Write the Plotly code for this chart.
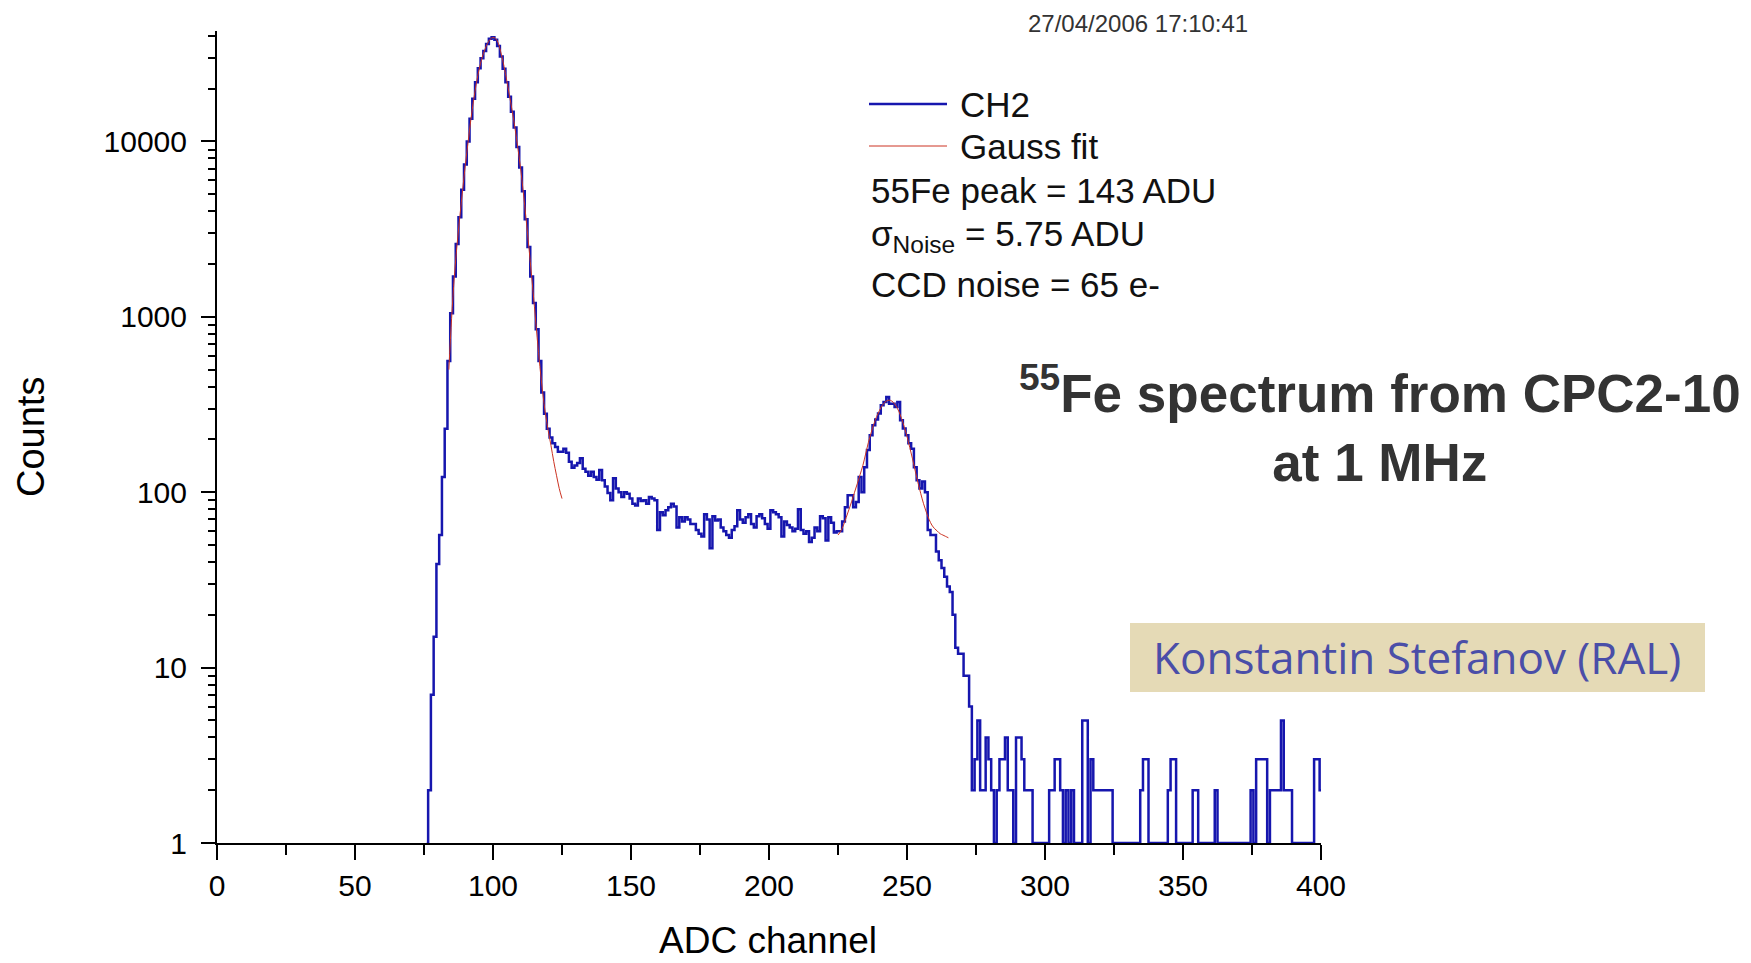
import plotly.graph_objects as go

# CH2 histogram: one bin per ADC channel, 76 .. 400
channels = list(range(76, 401))
counts = [
    1, 2, 7, 15, 39, 57, 122, 230, 560, 1050,                           # 76-85
    1700, 2600, 3700, 5300, 7400, 10000, 13500, 17500, 21800, 26200,    # 86-95
    29800, 32800, 36000, 38500, 39300, 38000, 35000, 30500, 26000, 21800,  # 96-105
    18000, 14800, 12000, 9300, 7100, 5200, 3600, 2500, 1700, 1200,      # 106-115
    850, 560, 370, 280, 230, 205, 190, 181, 170, 170,                   # 116-125
    177, 168, 149, 138, 142, 147, 156, 136, 131, 124,                   # 126-135
    131, 122, 118, 134, 117, 108, 99, 90, 120, 105,                     # 136-145
    100, 94, 100, 98, 92, 86, 84, 92, 89, 90,                           # 146-155
    86, 94, 92, 90, 61, 77, 74, 79, 82, 86,                             # 156-165
    83, 63, 72, 68, 72, 70, 66, 66, 61, 58,                             # 166-175
    56, 75, 70, 48, 73, 69, 70, 63, 60, 57,                             # 176-185
    55, 61, 64, 79, 70, 67, 72, 75, 66, 63,                             # 186-195
    73, 75, 71, 66, 62, 79, 77, 75, 72, 56,                             # 196-205
    68, 65, 63, 60, 62, 80, 61, 58, 60, 52,                             # 206-215
    55, 63, 60, 73, 71, 53, 72, 67, 59, 60,                             # 216-225
    60, 68, 82, 96, 96, 82, 88, 122, 100, 139,                          # 226-235
    174, 211, 241, 260, 281, 313, 327, 349, 320, 320,                   # 236-245
    306, 327, 257, 231, 211, 190, 177, 139, 117, 105,                   # 246-255
    115, 100, 61, 57, 57, 46, 41, 37, 33, 29,                           # 256-265
    27, 20, 13, 12, 12, 9, 9, 6, 2, 3,                                  # 266-275
    5, 2, 2, 4, 3, 2, 1, 2, 3, 3,                                       # 276-285
    4, 2, 2, 1, 4, 4, 3, 2, 2, 2,                                       # 286-295
    1, 1, 1, 1, 1, 1, 2, 2, 3, 3,                                       # 296-305
    2, 1, 2, 1, 2, 1, 1, 1, 5, 5,                                       # 306-315
    1, 3, 2, 2, 2, 2, 2, 2, 2, 1,                                       # 316-325
    1, 1, 1, 1, 1, 1, 1, 1, 1, 2,                                       # 326-335
    3, 3, 1, 1, 1, 1, 1, 1, 1, 2,                                       # 336-345
    3, 3, 1, 1, 1, 1, 1, 1, 2, 2,                                       # 346-355
    1, 1, 1, 1, 1, 1, 2, 1, 1, 1,                                       # 356-365
    1, 1, 1, 1, 1, 1, 1, 1, 1, 2,                                       # 366-375
    1, 3, 3, 3, 3, 1, 2, 2, 2, 2,                                       # 376-385
    5, 2, 2, 2, 1, 1, 1, 1, 1, 1,                                       # 386-395
    1, 1, 3, 3, 2,                                                      # 396-400
]

# Gauss fit of the noise peak
fit1_channels = list(range(84, 126))
fit1_counts = [
    500, 980, 1700, 2600, 3750, 5300, 7400, 10000, 13400, 17300,
    21600, 25900, 29900, 33300, 36200, 38300, 39200, 38600, 36000, 31500,
    26800, 22200, 18200, 14800, 11800, 9200, 7000, 5100, 3600, 2500,
    1700, 1150, 760, 520, 370, 280, 225, 185, 150, 125,
    105, 92,
]

# Gauss fit of the 55Fe peak
fit2_channels = list(range(225, 266))
fit2_counts = [
    57, 60, 65, 72, 80, 89, 100, 112, 126, 142,
    165, 192, 218, 245, 270, 292, 312, 326, 334, 334,
    326, 311, 290, 264, 236, 208, 180, 155, 132, 113,
    98, 86, 77, 70, 65, 62, 60, 58, 57, 56,
    55,
]

y_ticks = [1, 10, 100, 1000, 10000]
y_minor = [m * 10 ** e for e in range(0, 5) for m in range(2, 10) if m * 10 ** e < 42000]

# the page body has an 8px margin, so the figure is drawn 8px smaller and shifted
OFF = 8
W, H = 1751 - OFF, 963 - OFF
L, R, T, B = 217 - OFF, 430, 31 - OFF, 120
PW, PH = W - L - R, H - T - B
FONT = "Liberation Sans, Arial, sans-serif"


def px(x):
    # screen pixel -> paper x
    return (x - OFF - L) / PW


def py(y):
    # screen pixel -> paper y
    return (H - B - (y - OFF)) / PH


fig = go.Figure()
fig.add_trace(go.Scatter(
    x=channels, y=counts, mode="lines", name="CH2",
    line=dict(color="#1616ae", width=2.5, shape="hvh"),
    cliponaxis=False,
))
fig.add_trace(go.Scatter(
    x=fit1_channels, y=fit1_counts, mode="lines", name="Gauss fit",
    line=dict(color="#cc3322", width=1, shape="spline"),
))
fig.add_trace(go.Scatter(
    x=fit2_channels, y=fit2_counts, mode="lines", name="Gauss fit",
    line=dict(color="#cc3322", width=1, shape="spline"), showlegend=False,
))

axis_common = dict(
    showline=True, linecolor="black", linewidth=2,
    ticks="outside", tickcolor="black", tickwidth=2,
    showgrid=False, zeroline=False,
    tickfont=dict(family=FONT, size=30, color="black"),
    layer="below traces",
)

fig.update_xaxes(
    range=[0, 400], tick0=0, dtick=50, ticklen=15,
    minor=dict(ticks="outside", dtick=25, ticklen=10, tickwidth=2, tickcolor="black"),
    ticklabelstandoff=0,
    **axis_common,
)
fig.update_yaxes(
    type="log", range=[0, 4.63],
    tickvals=y_ticks, ticktext=[str(v) for v in y_ticks], ticklen=14,
    minor=dict(ticks="outside", tickvals=y_minor, ticklen=7, tickwidth=2, tickcolor="black"),
    ticklabelstandoff=8,
    **axis_common,
)

text_font = dict(family=FONT, size=35, color="#111111")
annotations = [
    dict(x=px(768), y=py(940), text="ADC channel", font=dict(family=FONT, size=37, color="black")),
    dict(x=px(31), y=py(437), text="Counts", textangle=-90, font=dict(family=FONT, size=38, color="black")),
    dict(x=px(1138), y=py(23), text="27/04/2006 17:10:41", font=dict(family=FONT, size=24, color="#333333")),
    dict(x=px(958), y=py(104), text="CH2", xanchor="left", font=text_font),
    dict(x=px(958), y=py(146), text="Gauss fit", xanchor="left", font=text_font),
    dict(x=px(869), y=py(191), text="55Fe peak = 143 ADU", xanchor="left", font=text_font),
    dict(x=px(869), y=py(236), text="σ<sub>Noise</sub> = 5.75 ADU", xanchor="left", font=text_font),
    dict(x=px(869), y=py(284), text="CCD noise = 65 e-", xanchor="left", font=text_font),
    dict(x=px(1380), y=py(424), text="<b><sup>55</sup>Fe spectrum from CPC2-10<br>at 1 MHz</b>",
         font=dict(family=FONT, size=53, color="#333333")),
    dict(x=px(1417), y=py(657), text="Konstantin Stefanov (RAL)",
         font=dict(family="Comic Sans MS, Open Sans, sans-serif", size=44, color="#4a4ea8")),
]
for a in annotations:
    a.setdefault("xanchor", "center")
    a.update(xref="paper", yref="paper", yanchor="middle", showarrow=False)

shapes = [
    dict(type="line", x0=px(869), x1=px(947), y0=py(104), y1=py(104),
         line=dict(color="#1616ae", width=2.5)),
    dict(type="line", x0=px(869), x1=px(947), y0=py(146), y1=py(146),
         line=dict(color="#cc3322", width=1)),
    dict(type="rect", x0=px(1130), x1=px(1705), y0=py(692), y1=py(623),
         fillcolor="#e5dab6", line=dict(width=0), layer="below"),
]
for s in shapes:
    s.update(xref="paper", yref="paper")

fig.update_layout(
    width=W, height=H,
    margin=dict(l=L, r=R, t=T, b=B),
    paper_bgcolor="white", plot_bgcolor="white",
    showlegend=False,
    annotations=annotations, shapes=shapes,
)

fig.write_html("out.html")
